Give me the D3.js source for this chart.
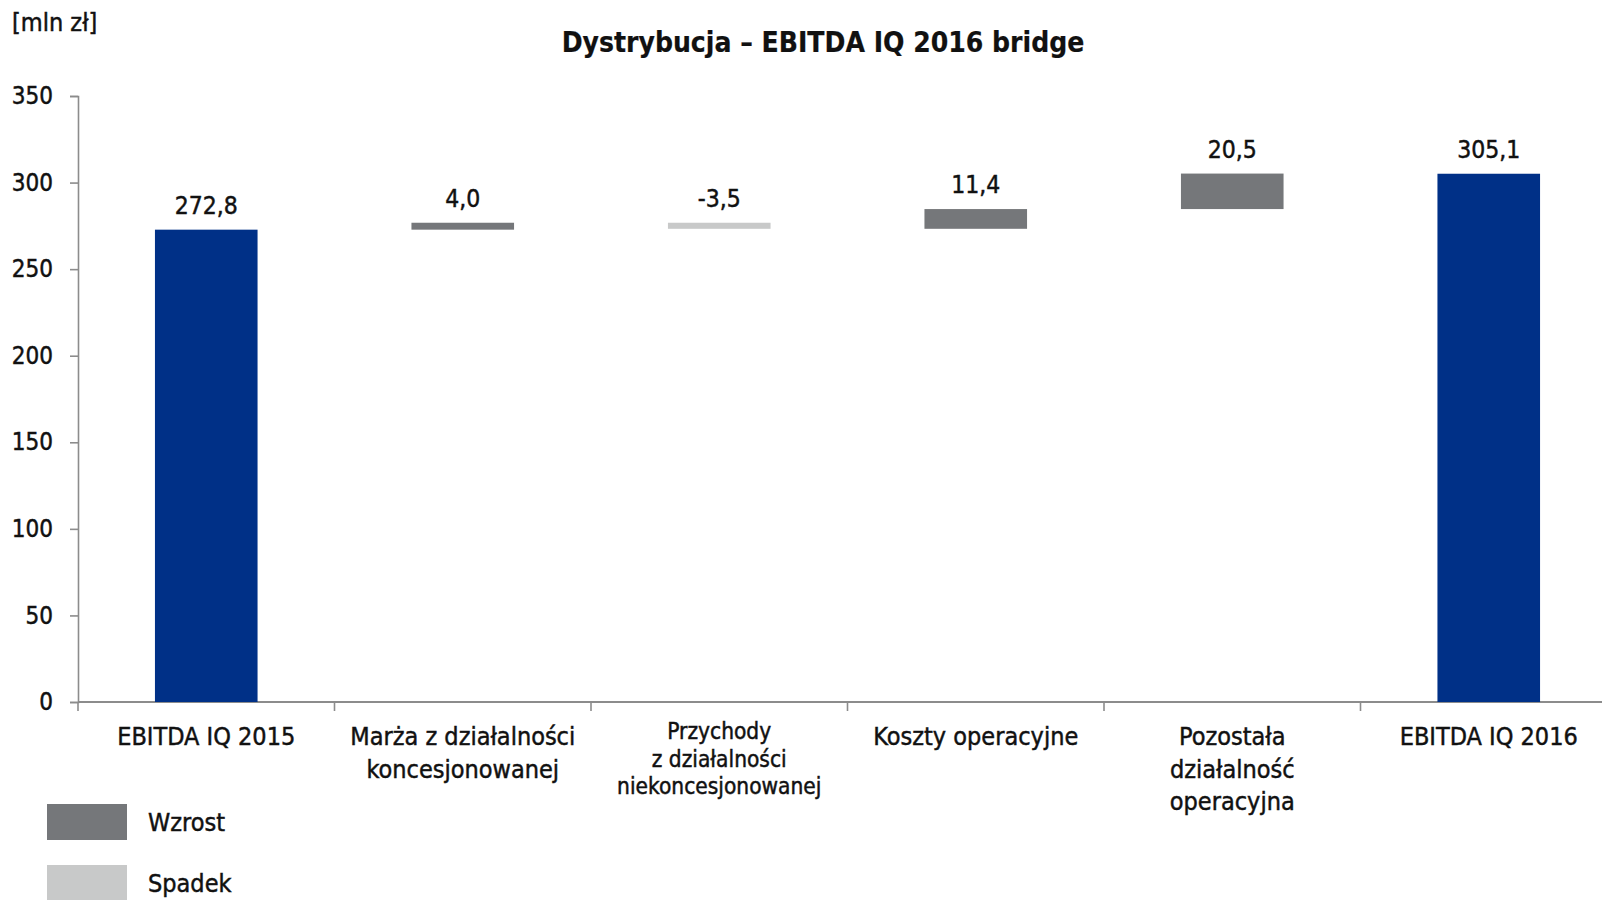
<!DOCTYPE html>
<html>
<head>
<meta charset="utf-8">
<script src="https://cdn.jsdelivr.net/npm/d3@7"></script>
<style>
  body { margin: 0; background: #fff; }
  svg text { font-family: "DejaVu Sans Condensed", "DejaVu Sans", sans-serif; fill: #111; stroke: #111; stroke-width: 0.45px; }
</style>
</head>
<body>
<svg id="chart" width="1602" height="900"></svg>
<script>
// waterfall data
var categories = ["EBITDA IQ 2015", "Marża z działalności\nkoncesjonowanej", "Przychody\nz działalności\nniekoncesjonowanej",
                  "Koszty operacyjne", "Pozostała\ndziałalność\noperacyjna", "EBITDA IQ 2016"];
var values = [272.8, 4.0, -3.5, 11.4, 20.5, 305.1];
var kinds = ["total", "delta", "delta", "delta", "delta", "total"];
var labels = ["272,8", "4,0", "-3,5", "11,4", "20,5", "305,1"];
var yTicks = [0, 50, 100, 150, 200, 250, 300, 350];
var legendItems = ["Wzrost", "Spadek"];

var colors = { total: "#003087", up: "#75777a", down: "#c8c9c9" };

// build bar extents
var bars = [];
var run = 0;
values.forEach(function(v, i){
	if(kinds[i] === "total"){
		bars.push({ cat: categories[i], y0: 0, y1: v, fill: colors.total, label: labels[i] });
		run = v;
	} else {
		var start = run;
		run = run + v;
		bars.push({ cat: categories[i], y0: Math.min(start, run), y1: Math.max(start, run),
		            fill: v >= 0 ? colors.up : colors.down, label: labels[i] });
	}
});

var svg = d3.select("#chart");
var left = 78, step = 256.5;

var x = d3.scaleBand()
	.domain(categories)
	.range([left, left + step * categories.length])
	.padding(0);

var y = d3.scaleLinear()
	.domain([0, 350])
	.range([702, 96]);

var barW = x.bandwidth() * 0.4;

// title and unit
svg.append("text")
	.attr("x", 823).attr("y", 52)
	.attr("text-anchor", "middle")
	.style("font-size", "28px").style("font-weight", "bold").style("stroke-width", "0.2px")
	.text("Dystrybucja – EBITDA IQ 2016 bridge");

svg.append("text")
	.attr("x", 12).attr("y", 31)
	.style("font-size", "25px")
	.text("[mln zł]");

// y axis
var yAxis = svg.append("g")
	.attr("transform", "translate(" + left + ",0)")
	.call(d3.axisLeft(y).tickValues(yTicks).tickSize(8).tickPadding(17));
yAxis.select(".domain").attr("stroke", "#8c8c8c").attr("stroke-width", 1.6);
yAxis.selectAll(".tick line").attr("stroke", "#8c8c8c").attr("stroke-width", 1.6);
yAxis.selectAll(".tick text")
	.style("font-size", "24px")
	.style("font-family", "'DejaVu Sans Condensed', sans-serif")
	.attr("fill", "#111");

// x axis: line and boundary ticks
var xAxis = svg.append("g");
xAxis.append("line")
	.attr("x1", left).attr("x2", 1602)
	.attr("y1", y(0)).attr("y2", y(0))
	.attr("stroke", "#8c8c8c").attr("stroke-width", 2);
xAxis.selectAll(".xtick")
	.data(categories)
	.enter().append("line")
	.attr("class", "xtick")
	.attr("x1", function(d){ return x(d); })
	.attr("x2", function(d){ return x(d); })
	.attr("y1", y(0)).attr("y2", y(0) + 9)
	.attr("stroke", "#8c8c8c").attr("stroke-width", 1.6);

// category labels
categories.forEach(function(c){
	var lines = c.split("\n");
	var small = lines.length === 3 && c.indexOf("Przychody") === 0;
	var fs = small ? 22.5 : 25;
	var lh = small ? 27.5 : 32.7;
	var t = svg.append("text")
		.attr("text-anchor", "middle")
		.attr("x", x(c) + x.bandwidth() / 2)
		.attr("y", small ? 739 : 745)
		.style("font-size", fs + "px");
	lines.forEach(function(l, k){
		t.append("tspan")
			.attr("x", x(c) + x.bandwidth() / 2)
			.attr("dy", k === 0 ? 0 : lh)
			.text(l);
	});
});

// bars
svg.selectAll(".bar")
	.data(bars)
	.enter().append("rect")
	.attr("class", "bar")
	.attr("x", function(d){ return x(d.cat) + (x.bandwidth() - barW) / 2; })
	.attr("width", barW)
	.attr("y", function(d){ return y(d.y1); })
	.attr("height", function(d){ return y(d.y0) - y(d.y1); })
	.attr("fill", function(d){ return d.fill; });

// value labels
svg.selectAll(".vlabel")
	.data(bars)
	.enter().append("text")
	.attr("class", "vlabel")
	.attr("text-anchor", "middle")
	.attr("x", function(d){ return x(d.cat) + x.bandwidth() / 2; })
	.attr("y", function(d){ return y(d.y1) - 16; })
	.style("font-size", "24.5px")
	.text(function(d){ return d.label; });

// legend
var legend = svg.selectAll(".legend")
	.data(legendItems)
	.enter().append("g")
	.attr("class", "legend")
	.attr("transform", function(d, i){ return "translate(47," + (804 + i * 61) + ")"; });
legend.append("rect")
	.attr("width", 80).attr("height", 36)
	.attr("fill", function(d, i){ return i === 0 ? colors.up : colors.down; });
legend.append("text")
	.attr("x", 101).attr("y", 27)
	.style("font-size", "25px")
	.text(function(d){ return d; });
</script>
</body>
</html>
